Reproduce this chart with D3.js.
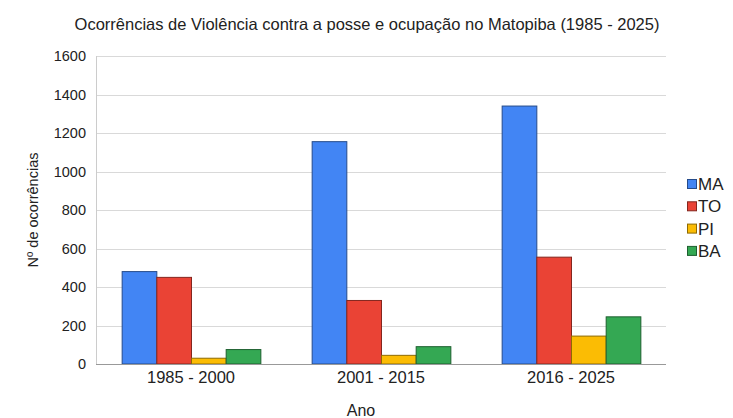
<!DOCTYPE html>
<html>
<head>
<meta charset="utf-8">
<script src="https://cdn.jsdelivr.net/npm/d3@7"></script>
<style>
  html, body { margin: 0; padding: 0; background: #fff; }
  svg { display: block; font-family: "Liberation Sans", Arial, sans-serif; }
</style>
</head>
<body>
<div id="chart"></div>
<script>
// Ocorrências de violência — grouped bars by period and state
const PERIODS = ['1985 - 2000', '2001 - 2015', '2016 - 2025']
const STATES = ['MA', 'TO', 'PI', 'BA']
const MA = [480, 1155, 1340]
const TO = [450, 330, 555]
const PI = [30, 45, 145]
const BA = [75, 90, 245]
const Y_TICKS = [0, 200, 400, 600, 800, 1000, 1200, 1400, 1600]

const COLORS = { MA: '#4285F4', TO: '#EA4335', PI: '#FBBC04', BA: '#34A853' }
const SERIES = { MA, TO, PI, BA }

const width = 733
const height = 418
const margin = { top: 56, right: 67, bottom: 54, left: 96 }
const textColor = '#222222'
const fontFamily = '"Liberation Sans", Arial, sans-serif'

const rows = PERIODS.map((p, i) => ({
  period: p,
  values: STATES.map(s => ({ state: s, value: SERIES[s][i] }))
}))

const svg = d3.select('#chart').append('svg')
  .attr('width', width)
  .attr('height', height)

const x0 = d3.scaleBand()
  .domain(PERIODS)
  .range([margin.left, width - margin.right])
  .paddingInner(0.27)
  .paddingOuter(0.135)

const x1 = d3.scaleBand()
  .domain(STATES)
  .range([0, x0.bandwidth()])

const y = d3.scaleLinear()
  .domain([0, 1600])
  .range([height - margin.bottom, margin.top])

// Gridlines
svg.append('g')
  .selectAll('line')
  .data(Y_TICKS.filter(d => d > 0))
  .join('line')
  .attr('x1', margin.left).attr('x2', width - margin.right)
  .attr('y1', d => Math.round(y(d)) + 0.5).attr('y2', d => Math.round(y(d)) + 0.5)
  .attr('stroke', '#d9d9d9').attr('stroke-width', 1)

// Left edge line
svg.append('line')
  .attr('x1', margin.left + 0.5).attr('x2', margin.left + 0.5)
  .attr('y1', y(1600)).attr('y2', y(0))
  .attr('stroke', '#cccccc')

// Y axis labels
svg.append('g')
  .attr('transform', `translate(${margin.left - 10},0)`)
  .call(d3.axisLeft(y).tickValues(Y_TICKS).tickFormat(d3.format('d')).tickSize(0).tickPadding(0))
  .call(g => {
    g.select('.domain').remove()
    g.selectAll('.tick text')
      .attr('fill', textColor).attr('font-size', '14.5px')
      .attr('font-family', fontFamily)
  })

// Bars
svg.append('g')
  .selectAll('g')
  .data(rows)
  .join('g')
  .attr('transform', d => `translate(${x0(d.period)},0)`)
  .selectAll('rect')
  .data(d => d.values)
  .join('rect')
  .attr('x', d => x1(d.state) + 0.5)
  .attr('y', d => y(d.value))
  .attr('width', x1.bandwidth())
  .attr('height', d => y(0) - y(d.value))
  .attr('fill', d => COLORS[d.state])
  .attr('stroke', d => d3.color(COLORS[d.state]).darker(1.6))
  .attr('stroke-width', 1)

// Baseline
svg.append('line')
  .attr('x1', margin.left).attr('x2', width - margin.right)
  .attr('y1', Math.round(y(0)) + 0.5).attr('y2', Math.round(y(0)) + 0.5)
  .attr('stroke', '#999999')

// X axis labels
svg.append('g')
  .attr('transform', `translate(0,${y(0)})`)
  .call(d3.axisBottom(x0).tickSize(0).tickPadding(7))
  .call(g => {
    g.select('.domain').remove()
    g.selectAll('.tick text')
      .attr('fill', textColor).attr('font-size', '16.5px')
      .attr('font-family', fontFamily)
  })

// Title
svg.append('text')
  .attr('x', 367).attr('y', 30)
  .attr('text-anchor', 'middle')
  .attr('fill', textColor).attr('font-size', '16.5px')
  .text('Ocorrências de Violência contra a posse e ocupação no Matopiba (1985 - 2025)')

// Axis titles
svg.append('text')
  .attr('transform', `translate(38,${(y(0) + y(1600)) / 2}) rotate(-90)`)
  .attr('text-anchor', 'middle')
  .attr('fill', textColor).attr('font-size', '14.5px')
  .text('Nº de ocorrências')

svg.append('text')
  .attr('x', 361).attr('y', 416)
  .attr('text-anchor', 'middle')
  .attr('fill', textColor).attr('font-size', '16px')
  .text('Ano')

// Legend
const legend = svg.append('g')
  .attr('transform', 'translate(687,179)')

STATES.forEach((s, i) => {
  legend.append('rect')
    .attr('x', 0.5).attr('y', i * 22.3 + 0.5)
    .attr('width', 9).attr('height', 9)
    .attr('fill', COLORS[s])
    .attr('stroke', d3.color(COLORS[s]).darker(1.6))
  legend.append('text')
    .attr('x', 11).attr('y', i * 22.3 + 11)
    .attr('fill', textColor).attr('font-size', '17px')
    .text(s)
})
</script>
</body>
</html>
